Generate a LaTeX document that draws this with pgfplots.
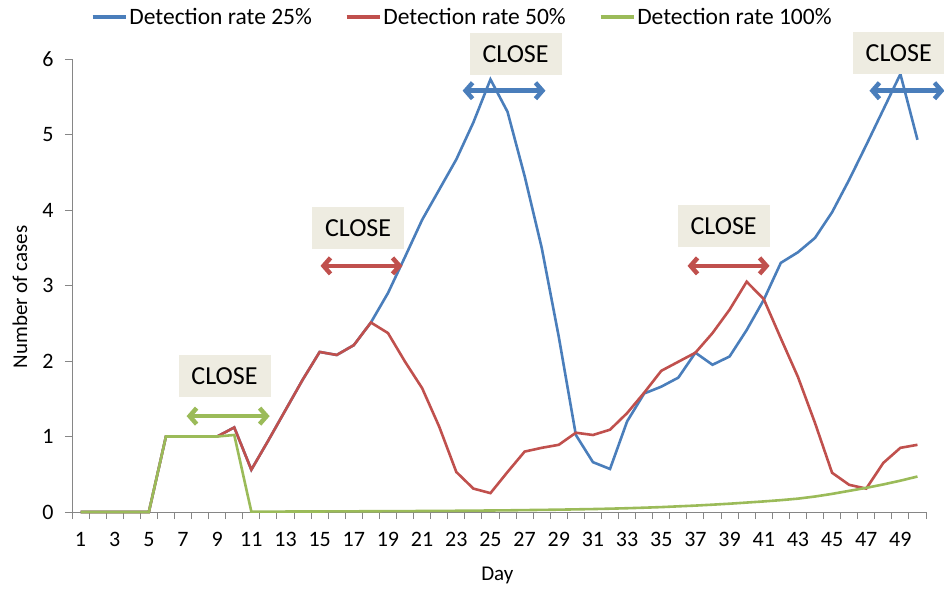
\documentclass[border=0pt]{standalone}
\usepackage{fontspec}
\setmainfont{Carlito}
\usepackage{pgfplots}
\usepackage{pgfplotstable}
\pgfplotsset{compat=1.18}
\usetikzlibrary{arrows.meta}
\definecolor{cblue}{RGB}{74,126,187}
\definecolor{cred}{RGB}{192,80,77}
\definecolor{cgreen}{RGB}{155,187,89}
\definecolor{boxfill}{RGB}{238,236,225}
\definecolor{axgray}{RGB}{134,134,134}

\pgfplotstableread{
day blue red green
1 0 0 0
2 0 0 0
3 0 0 0
4 0 0 0
5 0 0 0
6 1 1 1
7 1 1 1
8 1 1 1
9 1 1 1
10 1.12 1.12 1.02
11 0.56 0.56 0.005
12 0.95 0.95 0.005
13 1.35 1.35 0.006
14 1.75 1.75 0.006
15 2.12 2.12 0.007
16 2.08 2.08 0.008
17 2.21 2.21 0.009
18 2.51 2.51 0.010
19 2.90 2.37 0.011
20 3.38 1.99 0.012
21 3.87 1.64 0.013
22 4.27 1.13 0.015
23 4.67 0.53 0.016
24 5.16 0.31 0.018
25 5.73 0.25 0.020
26 5.30 0.53 0.022
27 4.45 0.80 0.025
28 3.50 0.85 0.028
29 2.32 0.89 0.031
30 1.02 1.05 0.035
31 0.66 1.02 0.039
32 0.57 1.09 0.044
33 1.20 1.31 0.050
34 1.57 1.58 0.057
35 1.66 1.87 0.065
36 1.78 1.99 0.075
37 2.11 2.11 0.085
38 1.95 2.37 0.097
39 2.06 2.68 0.110
40 2.41 3.05 0.125
41 2.81 2.82 0.140
42 3.30 2.30 0.157
43 3.44 1.79 0.177
44 3.63 1.18 0.205
45 3.97 0.52 0.240
46 4.40 0.36 0.280
47 4.86 0.31 0.320
48 5.33 0.65 0.365
49 5.80 0.85 0.415
50 4.93 0.89 0.470
}\datatable

\begin{document}
\begin{tikzpicture}
\begin{axis}[
  scale only axis, width=854pt, height=453pt,
  at={(0,0)}, anchor=south west,
  xmin=0.5, xmax=50.5, ymin=0, ymax=6,
  clip=false,
  axis x line=bottom, axis y line=left,
  axis line style={-, draw=axgray, line width=1pt},
  every tick/.style={draw=axgray, line width=1pt},
  tick align=outside,
  major tick length=7pt, minor tick length=7pt,
  xtick={1,3,...,49},
  major x tick style={draw=none},
  minor xtick={0.5,1.5,...,50.5},
  ytick={0,1,...,6},
  /pgf/number format/assume math mode=true,
  tick label style={font=\fontsize{22}{26}\selectfont, text=black},
  yticklabel style={xshift=-8pt},
  xticklabel style={yshift=-10pt},
  xlabel={Day}, ylabel={Number of cases},
  label style={font=\fontsize{21}{25}\selectfont},
  xlabel style={at={(axis description cs:0.498,-0.141)}, anchor=center},
  ylabel style={at={(axis description cs:-0.061,0.475)}, anchor=center},
  legend style={at={(axis description cs:0.457,1.093)}, anchor=center,
    draw=none, fill=none, font=\fontsize{23.5}{27}\selectfont,
    /tikz/every even column/.append style={column sep=31pt},
    inner sep=0pt},
  legend columns=-1,
  legend image code/.code={\draw[#1, line width=3.5pt] (0pt,0pt) -- (33pt,0pt);},
]
\addplot[cblue, line width=2.6pt] table[x=day, y=blue] {\datatable};
\addlegendentry{Detection rate 25\%}
\addplot[cred, line width=2.6pt] table[x=day, y=red] {\datatable};
\addlegendentry{Detection rate 50\%}
\addplot[cgreen, line width=2.6pt] table[x=day, y=green] {\datatable};
\addlegendentry{Detection rate 100\%}

\tikzset{closebox/.style={fill=boxfill, minimum width=92pt, minimum height=42pt, inner sep=0pt, font=\fontsize{26}{30}\selectfont},
  closearrow/.style={line width=4.5pt, {Straight Barb[length=7pt,width=16pt]}-{Straight Barb[length=7pt,width=16pt]}}}
\node[closebox] at (axis cs:9.43,1.80) {CLOSE};
\draw[closearrow, cgreen] (axis cs:7.21,1.27) -- (axis cs:12.07,1.27);
\node[closebox] at (axis cs:17.25,3.76) {CLOSE};
\draw[closearrow, cred] (axis cs:15.05,3.26) -- (axis cs:19.85,3.26);
\node[closebox] at (axis cs:26.47,6.07) {CLOSE};
\draw[closearrow, cblue] (axis cs:23.37,5.58) -- (axis cs:28.22,5.58);
\node[closebox] at (axis cs:38.65,3.79) {CLOSE};
\draw[closearrow, cred] (axis cs:36.54,3.26) -- (axis cs:41.34,3.26);
\node[closebox] at (axis cs:48.9,6.08) {CLOSE};
\draw[closearrow, cblue] (axis cs:47.19,5.58) -- (axis cs:51.58,5.58);
\end{axis}
\pgfresetboundingbox
\path[use as bounding box] (-72pt,-77pt) rectangle (872pt,512pt);
\end{tikzpicture}
\end{document}
